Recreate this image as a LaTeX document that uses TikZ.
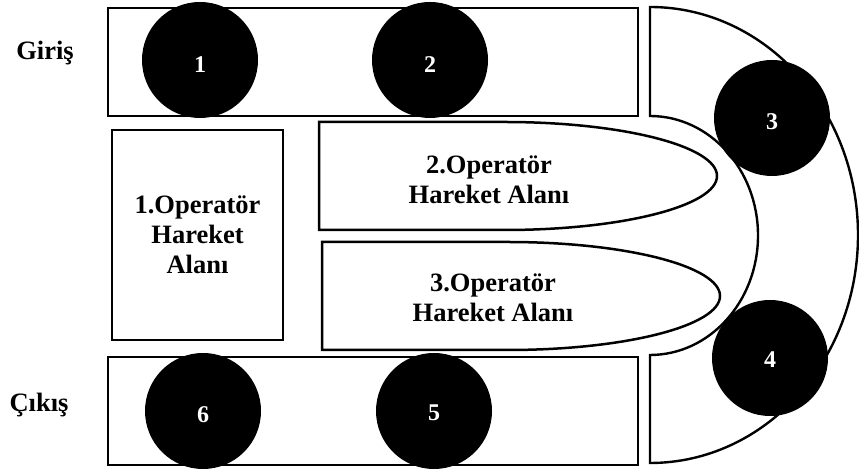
\documentclass[tikz,border=0pt]{standalone}
\usepackage{fontspec}
\setmainfont{Liberation Serif}
\begin{document}
\begin{tikzpicture}[x=1pt,y=1pt,
  frame/.style={draw=black, line width=2.8pt},
  curve/.style={draw=black, line width=2.4pt},
  disc/.style={circle, fill=black, minimum size=116pt, inner sep=0pt},
  digit/.style={text=white, font=\fontsize{24}{28}\selectfont\bfseries},
  area/.style={align=center, font=\fontsize{26.5}{30}\selectfont\bfseries},
  side/.style={font=\fontsize{26.5}{30}\selectfont\bfseries, anchor=base}]
\useasboundingbox (0,0) rectangle (859,470);

% entry and exit conveyors
\draw[frame] (108,354) rectangle (638,462);
\draw[frame] (108,5) rectangle (638,113);

% U-shaped turning section
\draw[curve] (650,463)
  arc[start angle=90, end angle=-90, x radius=208pt, y radius=228pt]
  -- (650,115)
  arc[start angle=-90, end angle=90, x radius=108pt, y radius=119.5pt]
  -- cycle;

% operator working areas
\node[frame, minimum width=171pt, minimum height=210pt, area] (op1) at (197.5,235)
  {1.Operatör\\Hareket\\Alanı};
\draw[frame, line width=2.5pt] (319,348) -- (505,348)
  arc[start angle=90, end angle=-90, x radius=212pt, y radius=54pt]
  -- (319,240) -- cycle;
\draw[frame, line width=2.5pt] (322,228) -- (508,228)
  arc[start angle=90, end angle=-90, x radius=212pt, y radius=54pt]
  -- (322,120) -- cycle;
\node[area] (op2) at (489,290.5) {2.Operatör\\Hareket Alanı};
\node[area] (op3) at (493,172) {3.Operatör\\Hareket Alanı};

% stations
\node[disc] (c1) at (200,410) {};
\node[disc] (c2) at (430,410) {};
\node[disc] (c3) at (772,352) {};
\node[disc] (c4) at (770,112) {};
\node[disc] (c5) at (434,59) {};
\node[disc] (c6) at (203,59) {};
\node[digit] (n1) at ([yshift=-5pt]c1) {1};
\node[digit] (n2) at ([yshift=-5pt]c2) {2};
\node[digit] (n3) at ([yshift=-4pt]c3) {3};
\node[digit] (n4) at ([yshift=-2pt]c4) {4};
\node[digit] (n5) at ([yshift=-2pt]c5) {5};
\node[digit] (n6) at ([yshift=-4pt]c6) {6};

% side labels
\node[side] (in) at (45,410) {Giriş};
\node[side] (out) at (39,58) {Çıkış};
\end{tikzpicture}
\end{document}
